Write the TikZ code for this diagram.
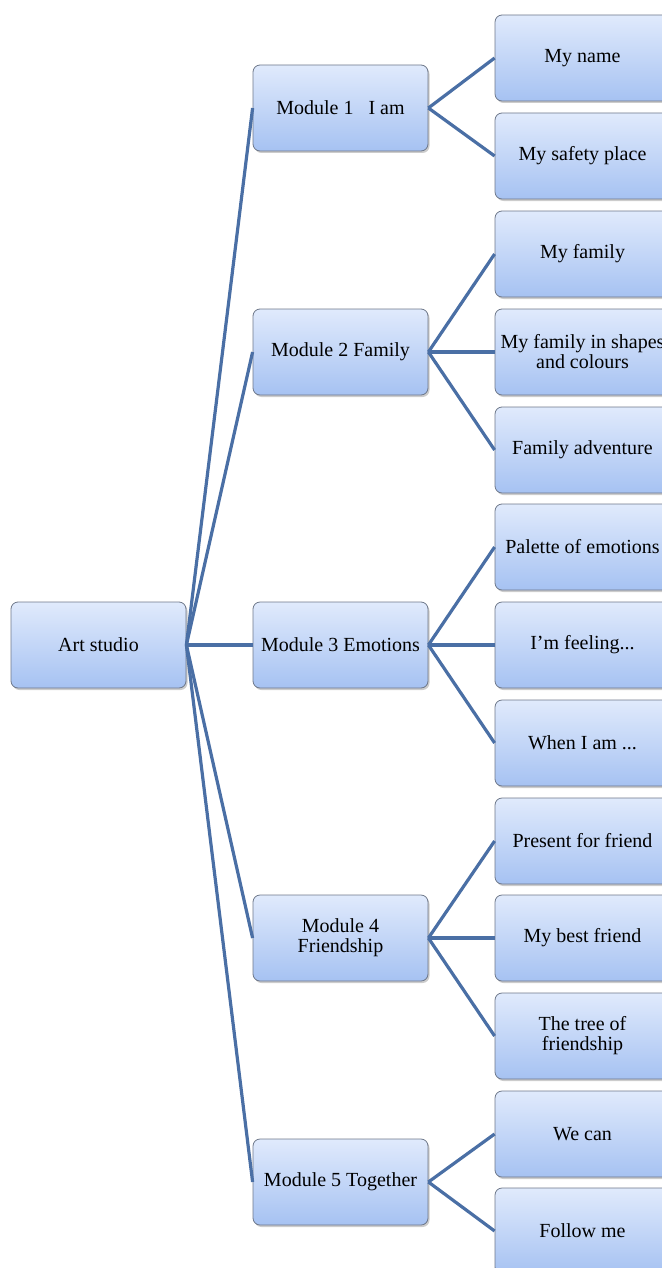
\documentclass[tikz,border=0pt]{standalone}
\usepackage{fontspec}
\setmainfont{Liberation Serif}
\usetikzlibrary{shadows}
\definecolor{boxtop}{HTML}{E0EAFC}
\definecolor{boxbot}{HTML}{A6C2F2}
\definecolor{boxedge}{HTML}{6E788A}
\definecolor{linkblue}{HTML}{4A6FA5}

\begin{document}
\begin{tikzpicture}[
    x=1pt, y=-1pt,
    every node/.style={font=\fontsize{20}{20}\selectfont},
    box/.style ={draw=boxedge, line width=0.8pt, rounded corners=7pt,
                 minimum height=86pt, minimum width=175pt, align=center,
                 inner sep=1pt, top color=boxtop, bottom color=boxbot,
                 drop shadow={shadow xshift=1.5pt, shadow yshift=-2pt,
                              opacity=0.4}},
    link/.style={draw=linkblue, line width=3.2pt}
  ]
  \useasboundingbox (0,0) rectangle (661,1268);
  % root and modules
  \node[box] (root) at (98.5,645)  {Art studio};
  \node[box] (m1)   at (340.5,108) {Module 1\ \ \ I am};
  \node[box] (m2)   at (340.5,352) {Module 2 Family};
  \node[box] (m3)   at (340.5,645) {Module 3 Emotions};
  \node[box] (m4)   at (340.5,938) {Module 4\\Friendship};
  \node[box] (m5)   at (340.5,1182) {Module 5 Together};
  % lessons
  \node[box] (l1)  at (582.5,58)   {My name};
  \node[box] (l2)  at (582.5,156)  {My safety place};
  \node[box] (l3)  at (582.5,254)  {My family};
  \node[box] (l4)  at (582.5,352)  {My family in shapes\\and colours};
  \node[box] (l5)  at (582.5,450)  {Family adventure};
  \node[box] (l6)  at (582.5,547)  {Palette of emotions};
  \node[box] (l7)  at (582.5,645)  {I'm feeling...};
  \node[box] (l8)  at (582.5,743)  {When I am ...};
  \node[box] (l9)  at (582.5,841)  {Present for friend};
  \node[box] (l10) at (582.5,938)  {My best friend};
  \node[box] (l11) at (582.5,1036) {The tree of\\friendship};
  \node[box] (l12) at (582.5,1134) {We can};
  \node[box] (l13) at (582.5,1231) {Follow me};
  % connectors
  \draw[link] (root.east) -- (m1.west);
  \draw[link] (root.east) -- (m2.west);
  \draw[link] (root.east) -- (m3.west);
  \draw[link] (root.east) -- (m4.west);
  \draw[link] (root.east) -- (m5.west);
  \draw[link] (m1.east) -- (l1.west);
  \draw[link] (m1.east) -- (l2.west);
  \draw[link] (m2.east) -- (l3.west);
  \draw[link] (m2.east) -- (l4.west);
  \draw[link] (m2.east) -- (l5.west);
  \draw[link] (m3.east) -- (l6.west);
  \draw[link] (m3.east) -- (l7.west);
  \draw[link] (m3.east) -- (l8.west);
  \draw[link] (m4.east) -- (l9.west);
  \draw[link] (m4.east) -- (l10.west);
  \draw[link] (m4.east) -- (l11.west);
  \draw[link] (m5.east) -- (l12.west);
  \draw[link] (m5.east) -- (l13.west);
\end{tikzpicture}
\end{document}
